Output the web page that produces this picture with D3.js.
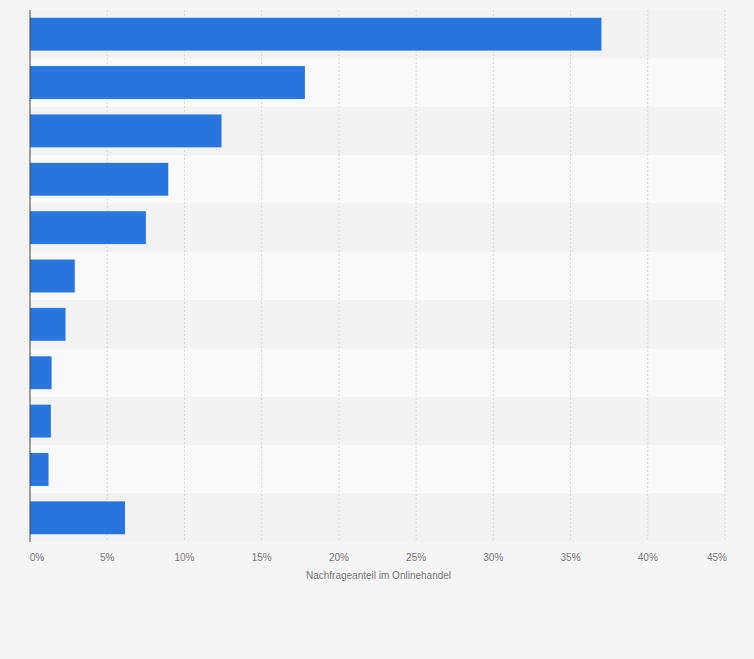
<!DOCTYPE html>
<html><head><meta charset="utf-8">
<script src="https://cdn.jsdelivr.net/npm/d3@7"></script>
<style>body{margin:0;background:#f4f4f4;font-family:"Liberation Sans",Arial,sans-serif}</style>
</head><body><svg id="c" width="754" height="659"></svg>
<script>
// category labels are not shown in the picture
const categories = ["1","2","3","4","5","6","7","8","9","10","11"];
const values = [37.0, 17.8, 12.4, 8.95, 7.5, 2.9, 2.3, 1.4, 1.35, 1.2, 6.15];
const ticks = [0,5,10,15,20,25,30,35,40,45];
const axisTitle = "Nachfrageanteil im Onlinehandel";

const svg = d3.select("#c");
const m = {l: 30, r: 29, t: 10, b: 117};
const W = 754, H = 659;
const x = d3.scaleLinear().domain([0, 45]).range([m.l, W - m.r]);
const y = d3.scaleBand().domain(categories).range([m.t, H - m.b]).paddingInner(0).paddingOuter(0);

svg.append("rect").attr("width", W).attr("height", H).attr("fill", "#f4f4f4");
svg.selectAll("rect.band").data(categories).join("rect").attr("class","band")
  .attr("x", m.l).attr("y", d => y(d)).attr("width", x(45) - m.l).attr("height", y.bandwidth())
  .attr("fill", (d, i) => i % 2 ? "#f9f9f9" : "#f2f2f2");

svg.selectAll("line.grid").data(ticks.slice(1)).join("line").attr("class","grid")
  .attr("x1", d => x(d)).attr("x2", d => x(d)).attr("y1", m.t).attr("y2", H - m.b)
  .attr("stroke", "#d8d8d8").attr("stroke-dasharray", "2,2");

const bh = y.bandwidth() * 0.68;
svg.selectAll("rect.bar").data(values).join("rect").attr("class","bar")
  .attr("x", x(0)).attr("y", (d, i) => y(categories[i]) + (y.bandwidth() - bh) / 2)
  .attr("width", d => x(d) - x(0)).attr("height", bh).attr("fill", "#2876dd");

svg.append("line").attr("x1", x(0)).attr("x2", x(0)).attr("y1", m.t).attr("y2", H - m.b)
  .attr("stroke", "#444").attr("stroke-width", 1);

svg.selectAll("text.tick").data(ticks).join("text").attr("class","tick")
  .attr("x", d => x(d) + (d === 0 ? 7 : d === 45 ? -8 : 0)).attr("y", H - m.b + 19)
  .attr("text-anchor", "middle").attr("font-size", 10).attr("fill", "#777")
  .text(d => d + "%");

svg.append("text").attr("x", (x(0) + x(45)) / 2 + 1).attr("y", H - m.b + 37)
  .attr("text-anchor", "middle").attr("font-size", 10).attr("fill", "#777").text(axisTitle);
</script></body></html>
